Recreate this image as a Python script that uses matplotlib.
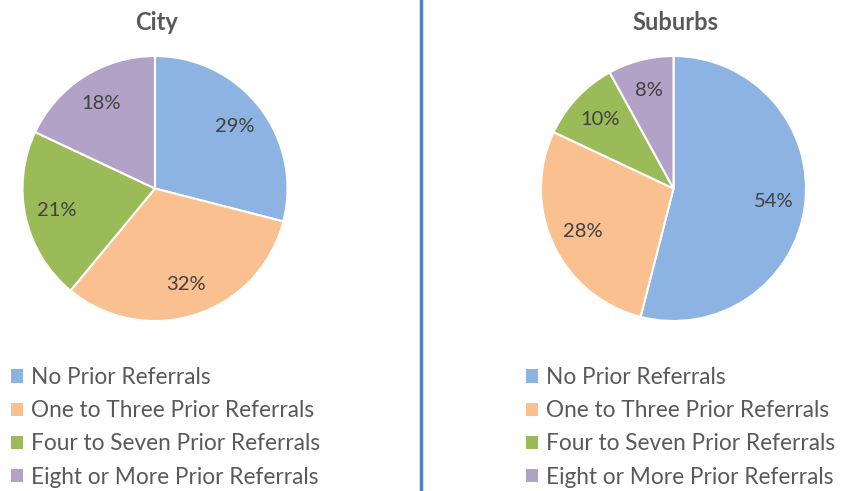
import matplotlib
matplotlib.use("Agg")
import matplotlib.pyplot as plt
from matplotlib.patches import Patch
from matplotlib.lines import Line2D

plt.rcParams['font.family'] = ['Lato', 'DejaVu Sans']

categories = ["No Prior Referrals", "One to Three Prior Referrals",
              "Four to Seven Prior Referrals", "Eight or More Prior Referrals"]
city_values = [29, 32, 21, 18]
suburbs_values = [54, 28, 10, 8]
titles = ["City", "Suburbs"]
colors = ["#8db3e2", "#fac090", "#9bbb59", "#b3a2c7"]

W, H = 842, 491
fig = plt.figure(figsize=(W / 100, H / 100), dpi=100)

def px_axes(cx, cy, r):
    return fig.add_axes([(cx - r) / W, (H - cy - r) / H, 2 * r / W, 2 * r / H])

centers = [(155, 188.5), (673.5, 188.5)]
legend_x = [11, 526]
for (cx, cy), vals, title, lx in zip(centers, [city_values, suburbs_values], titles, legend_x):
    ax = px_axes(cx, cy, 132.5)
    ax.pie(vals, colors=colors, startangle=90, counterclock=False,
           autopct=lambda p: f"{p:.0f}%", pctdistance=0.76,
           wedgeprops=dict(edgecolor="white", linewidth=1.5),
           textprops=dict(fontsize=14.5, color="#404040"))
    ax.set_xlim(-1, 1)
    ax.set_ylim(-1, 1)
    ax.set_aspect("equal")
    fig.text((cx + 2) / W, 1 - 22 / H, title, ha="center", va="center",
             fontsize=17, fontweight="bold", color="#595959")
    handles = [Patch(facecolor=c, edgecolor="none") for c in colors]
    fig.legend(handles, categories, loc="upper left",
               bbox_to_anchor=(lx / W, 1 - 367 / H), frameon=False,
               fontsize=16.3, labelcolor="#595959", handlelength=0.52,
               handleheight=0.52, handletextpad=0.35, labelspacing=0.54,
               borderpad=0, borderaxespad=0)

fig.add_artist(Line2D([421.5 / W, 421.5 / W], [0, 1], color="#4f81bd",
                      linewidth=2.5, transform=fig.transFigure))

fig.savefig("out.png", dpi=100, facecolor="white")
